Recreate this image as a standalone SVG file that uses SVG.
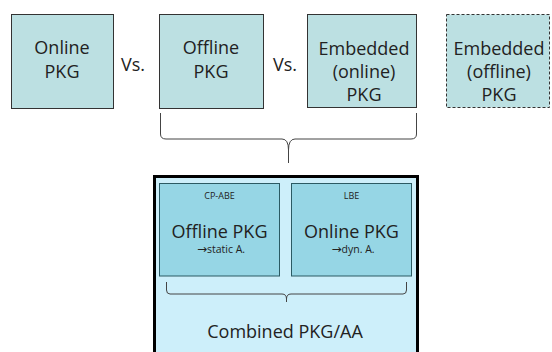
<svg xmlns="http://www.w3.org/2000/svg" width="552" height="352" viewBox="0 0 552 352">
  <style>
    text { font-family: "Open Sans", "Liberation Sans", sans-serif; fill: #222; text-anchor: middle; }
    .big { font-size: 18px; }
    .small { font-size: 9px; }
    .sub { font-size: 10.5px; }
    .arrow { font-family: "DejaVu Sans", sans-serif; font-size: 12px; }
    .pkg { fill: #bce0e2; stroke: #333; stroke-width: 1; }
    .dashed { stroke-dasharray: 3 2; }
    .inner { fill: #96d6e5; stroke: #2b5a63; stroke-width: 1; }
    .brace { fill: none; stroke: #444; stroke-width: 1; }
  </style>
  <rect width="552" height="352" fill="#fff"/>

  <g id="online-pkg">
    <rect class="pkg" x="11.5" y="14.5" width="102" height="94"/>
    <text class="big" x="62" y="54">Online</text>
    <text class="big" x="62" y="78">PKG</text>
  </g>
  <text class="big" x="133" y="71">Vs.</text>

  <g id="offline-pkg">
    <rect class="pkg" x="159.5" y="14.5" width="104" height="94"/>
    <text class="big" x="211" y="54">Offline</text>
    <text class="big" x="211" y="78">PKG</text>
  </g>
  <text class="big" x="285" y="71">Vs.</text>

  <g id="embedded-online-pkg">
    <rect class="pkg" x="307.5" y="14.5" width="109" height="93"/>
    <text class="big" x="364" y="55">Embedded</text>
    <text class="big" x="364" y="78">(online)</text>
    <text class="big" x="364" y="101">PKG</text>
  </g>

  <g id="embedded-offline-pkg">
    <rect class="pkg dashed" x="446.5" y="14.5" width="103" height="93"/>
    <text class="big" x="499" y="55">Embedded</text>
    <text class="big" x="499" y="78">(offline)</text>
    <text class="big" x="499" y="101">PKG</text>
  </g>

  <g id="combined-pkg-aa">
    <rect x="154.5" y="176.5" width="263" height="180" fill="#cdeffa" stroke="#000" stroke-width="3"/>
    <text class="big" x="285" y="338">Combined PKG/AA</text>
  </g>

  <g id="cp-abe-offline">
    <rect class="inner" x="159.5" y="183.5" width="120" height="92.5"/>
    <text class="small" x="219.5" y="199">CP-ABE</text>
    <text class="big" x="219.5" y="238">Offline PKG</text>
    <text class="sub" x="221" y="253"><tspan class="arrow">→</tspan>static A.</text>
  </g>

  <g id="lbe-online">
    <rect class="inner" x="291.5" y="183.5" width="120" height="92.5"/>
    <text class="small" x="351.5" y="199">LBE</text>
    <text class="big" x="351.5" y="238">Online PKG</text>
    <text class="sub" x="353" y="253"><tspan class="arrow">→</tspan>dyn. A.</text>
  </g>

  <g id="connectors">
    <path class="brace" d="M160.5,113 V134 Q160.5,139 166,139 H282 Q288.5,139 288.5,150 V163 M288.5,150 Q288.5,139 295,139 H411 Q416.5,139 416.5,134 V113"/>
    <path class="brace" d="M166.5,282 V290 Q166.5,294 170,294 H282 Q286.5,294 286.5,299 V302 M286.5,299 Q286.5,294 291,294 H403 Q406.5,294 406.5,290 V282"/>
  </g>
</svg>
